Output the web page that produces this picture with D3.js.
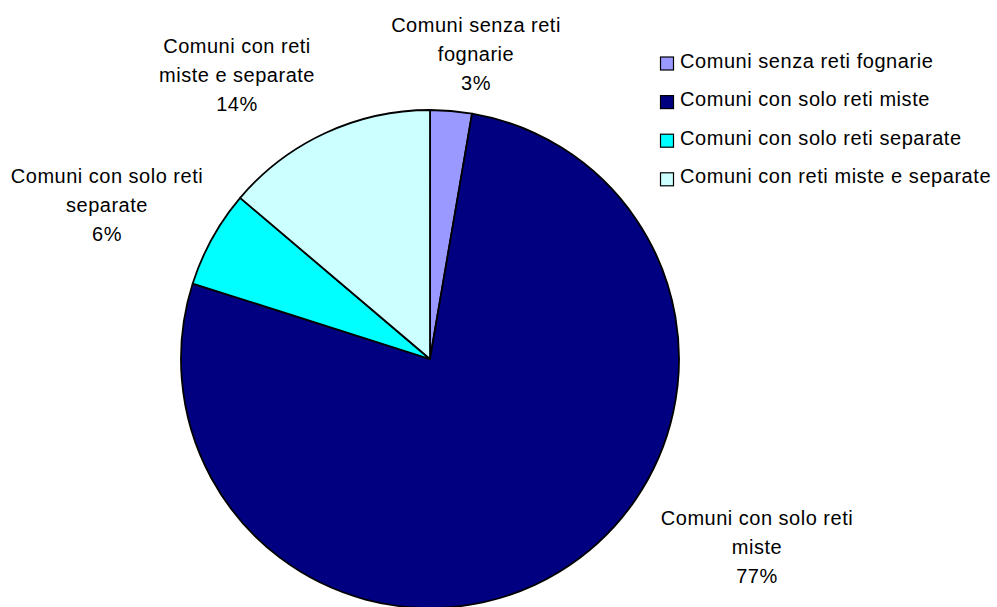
<!DOCTYPE html>
<html>
<head>
<meta charset="utf-8">
<script src="https://cdn.jsdelivr.net/npm/d3@7"></script>
<style>
  html, body { margin: 0; padding: 0; background: #fff; }
  svg { display: block; }
  text { font-family: "Liberation Sans", Arial, sans-serif; fill: #000; }
</style>
</head>
<body>
<svg id="chart" width="997" height="607"></svg>
<script>
// ---- data ----
const categories = [
  "Comuni senza reti fognarie",
  "Comuni con solo reti miste",
  "Comuni con solo reti separate",
  "Comuni con reti miste e separate"
];
const values = [2.7, 77.2, 6.3, 13.8];
const labelLines = [
  ["Comuni senza reti", "fognarie"],
  ["Comuni con solo reti", "miste"],
  ["Comuni con solo reti", "separate"],
  ["Comuni con reti", "miste e separate"]
];
const colors = ["#9999FF", "#000080", "#00FFFF", "#CCFFFF"];

// ---- layout ----
const W = 997, H = 607;
const cx = 430, cy = 359, R = 249;
const fontSize = 20, lineH = 29;
// label anchor (center x, first baseline y), relative to pie center
const labelOffsets = [[46, -327], [327, 166], [-323, -176], [-193, -306]];

const svg = d3.select("#chart");
const data = categories.map((c, i) => ({ cat: c, value: values[i], lines: labelLines[i], color: colors[i], off: labelOffsets[i] }));

const pie = d3.pie().value(d => d.value).sort(null).startAngle(0).endAngle(2 * Math.PI);
const arc = d3.arc().innerRadius(0).outerRadius(R);
const arcs = pie(data);

const g = svg.append("g").attr("transform", `translate(${cx},${cy})`);
g.selectAll("path.slice").data(arcs).join("path")
  .attr("class", "slice")
  .attr("d", arc)
  .attr("fill", d => d.data.color)
  .attr("stroke", "#000")
  .attr("stroke-width", 1.8)
  .attr("stroke-linejoin", "round");

const pct = d3.format(".0%");
const total = d3.sum(values);
const labels = g.selectAll("text.lbl").data(arcs).join("text")
  .attr("class", "lbl")
  .attr("text-anchor", "middle")
  .attr("font-size", fontSize)
  .attr("letter-spacing", 0.5);
labels.each(function(d) {
  const t = d3.select(this);
  const lines = d.data.lines.concat([pct(d.data.value / total)]);
  lines.forEach((ln, j) => {
    t.append("tspan")
      .attr("x", d.data.off[0])
      .attr("y", d.data.off[1] + j * lineH)
      .text(ln);
  });
});

// ---- legend ----
const legend = svg.append("g").attr("transform", "translate(660,55)");
const rowH = 38.6;
const items = legend.selectAll("g.item").data(data).join("g")
  .attr("class", "item")
  .attr("transform", (d, i) => `translate(0,${i * rowH})`);
items.append("rect")
  .attr("x", 0.5).attr("y", 2)
  .attr("width", 13).attr("height", 13)
  .attr("fill", d => d.color)
  .attr("stroke", "#000").attr("stroke-width", 1.2);
items.append("text")
  .attr("x", 20).attr("y", 12.5)
  .attr("font-size", fontSize)
  .attr("letter-spacing", 0.55)
  .text(d => d.cat);
</script>
</body>
</html>
